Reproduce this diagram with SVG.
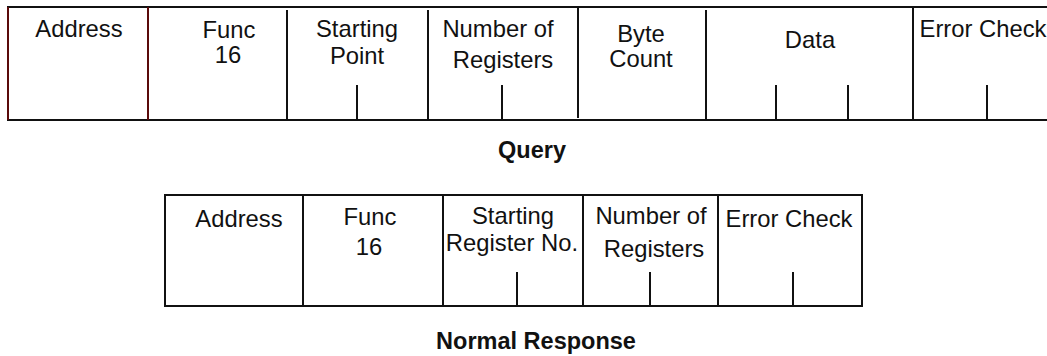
<svg xmlns="http://www.w3.org/2000/svg" width="1047" height="356" viewBox="0 0 1047 356">
<style>
.ln{stroke:#111;stroke-width:2;fill:none}
.rd{stroke:#5a0a0a;stroke-width:2;fill:none}
.t{font-family:"Liberation Sans",Arial,sans-serif;font-size:23.8px;fill:#111;text-anchor:middle}
.b{font-family:"Liberation Sans",Arial,sans-serif;font-size:23.5px;font-weight:bold;fill:#111;text-anchor:middle}
</style>
<rect width="1047" height="356" fill="#fff"/>
<g id="connectors">
<line class="ln" x1="7" y1="7" x2="1047" y2="7"/>
<line class="ln" x1="7" y1="120" x2="1047" y2="120"/>
<line class="rd" x1="8" y1="7" x2="8" y2="120"/>
<line class="rd" x1="148" y1="7" x2="148" y2="120"/>
<line class="ln" x1="287" y1="10" x2="287" y2="120"/>
<line class="ln" x1="428" y1="10" x2="428" y2="120"/>
<line class="ln" x1="578" y1="8" x2="578" y2="118"/>
<line class="ln" x1="706" y1="10" x2="706" y2="120"/>
<line class="ln" x1="913" y1="8" x2="913" y2="120"/>
<line class="ln" x1="357" y1="85" x2="357" y2="120"/>
<line class="ln" x1="502" y1="85" x2="502" y2="120"/>
<line class="ln" x1="776" y1="85" x2="776" y2="120"/>
<line class="ln" x1="848" y1="85" x2="848" y2="120"/>
<line class="ln" x1="987" y1="85" x2="987" y2="120"/>
<rect class="ln" x="165" y="195" width="697" height="111"/>
<line class="ln" x1="303" y1="195" x2="303" y2="306"/>
<line class="ln" x1="443" y1="195" x2="443" y2="306"/>
<line class="ln" x1="583" y1="195" x2="583" y2="306"/>
<line class="ln" x1="718" y1="195" x2="718" y2="306"/>
<line class="ln" x1="517" y1="272" x2="517" y2="306"/>
<line class="ln" x1="650" y1="272" x2="650" y2="306"/>
<line class="ln" x1="793" y1="272" x2="793" y2="306"/>
</g>
<g id="q-address"><text class="t" x="79" y="37">Address</text></g>
<g id="q-func"><text class="t" x="229" y="38">Func</text><text class="t" x="228" y="63">16</text></g>
<g id="q-start"><text class="t" x="357" y="37">Starting</text><text class="t" x="357" y="64">Point</text></g>
<g id="q-num"><text class="t" x="498" y="37">Number of</text><text class="t" x="503" y="68">Registers</text></g>
<g id="q-byte"><text class="t" x="641" y="42">Byte</text><text class="t" x="641" y="67">Count</text></g>
<g id="q-data"><text class="t" x="810" y="48">Data</text></g>
<g id="q-err"><text class="t" x="983" y="37">Error Check</text></g>
<g id="q-label"><text class="b" x="532" y="158">Query</text></g>
<g id="r-address"><text class="t" x="239" y="227">Address</text></g>
<g id="r-func"><text class="t" x="370" y="225">Func</text><text class="t" x="369" y="255">16</text></g>
<g id="r-start"><text class="t" x="513" y="224">Starting</text><text class="t" x="512" y="251">Register No.</text></g>
<g id="r-num"><text class="t" x="651" y="224">Number of</text><text class="t" x="654" y="257">Registers</text></g>
<g id="r-err"><text class="t" x="789" y="227">Error Check</text></g>
<g id="r-label"><text class="b" x="536" y="349">Normal Response</text></g>
</svg>
